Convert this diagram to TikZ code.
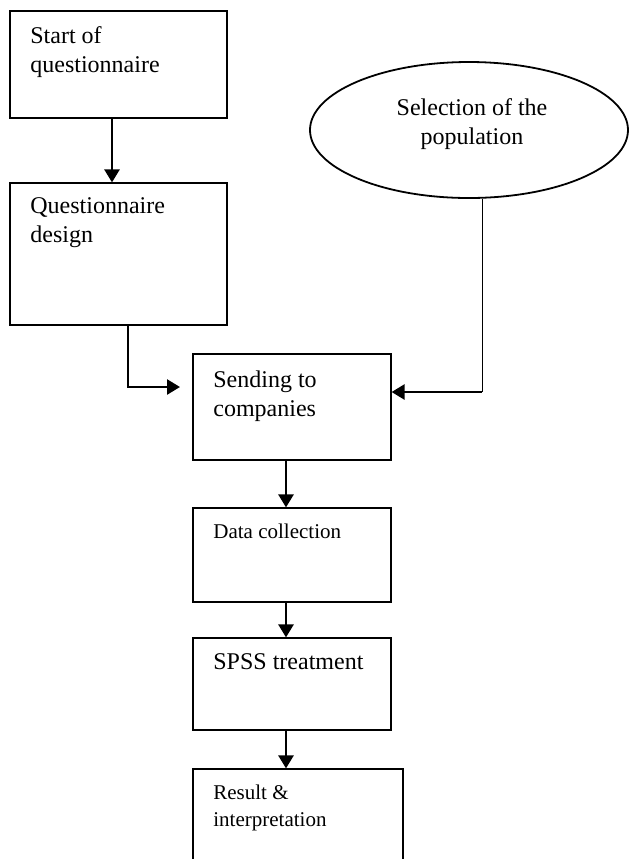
\documentclass[tikz,border=0pt]{standalone}
\usepackage{fontspec}
\setmainfont{Liberation Serif}
\usetikzlibrary{arrows.meta,fit,shapes.geometric}
\tikzset{
  boxnode/.style={draw, line width=0.6pt, inner sep=0pt, rectangle},
  popnode/.style={draw, line width=0.9pt, ellipse, inner sep=0pt},
  arr/.style={line width=1.3pt, -{Triangle[length=6.5pt,width=7.5pt]}},
  thinline/.style={line width=0.5pt},
  bigtext/.style={font=\fontsize{12}{14.5}\selectfont, inner sep=0pt, align=left, anchor=north west},
  smalltext/.style={font=\fontsize{10.5}{13.5}\selectfont, inner sep=0pt, align=left, anchor=north west},
}
\begin{document}
\begin{tikzpicture}[x=0.5pt,y=-0.5pt]
\clip (0,0) rectangle (630,859);
\fill[white] (0,0) rectangle (630,859);
% boxes
\node[boxnode, fit={(10,11) (227,118)}] (b1) {};
\node[boxnode, fit={(10,183) (227,325)}] (b2) {};
\node[boxnode, fit={(193,354) (391,460)}] (b3) {};
\node[boxnode, fit={(193,508) (391,602)}] (b4) {};
\node[boxnode, fit={(193,638) (391,730)}] (b5) {};
\node[boxnode, fit={(193,769) (403,885)}] (b6) {};
\node[popnode, minimum width=159pt, minimum height=68pt] (pop) at (469,130) {};
% texts
\node[bigtext] (t1) at (30,26.6) {Start of\\questionnaire};
\node[bigtext] (t2) at (30,197.6) {Questionnaire\\design};
\node[bigtext] (t3) at (213,370.6) {Sending to\\companies};
\node[smalltext] (t4) at (213,523.7) {Data collection};
\node[bigtext] (t5) at (213,652.8) {SPSS treatment};
\node[smalltext] (t6) at (213,784.7) {Result \&\\interpretation};
\node[font=\fontsize{12}{14.5}\selectfont, inner sep=0pt, align=center, anchor=north] (tp) at (472,98.6) {Selection of the\\population};
% helper coordinates
\coordinate (c12) at (112,0);
\coordinate (s2) at (76,325);
\coordinate (k2a) at (128,325);
\coordinate (k2b) at (128,387);
\coordinate (e2end) at (180,387);
\coordinate (ex) at (482,0);
\coordinate (ey) at (482,392);
\coordinate (cm) at (286,0);
% connectors
\draw[arr] (b1.south -| c12) -- (b2.north -| c12);
\draw[arr] (s2) -- (k2a) -- (k2b) -- (e2end);
\draw[thinline] (pop.south -| ex) -- (ey);
\draw[arr] (ey) -- (b3.east |- ey);
\draw[arr] (b3.south -| cm) -- (b4.north -| cm);
\draw[arr] (b4.south -| cm) -- (b5.north -| cm);
\draw[arr] (b5.south -| cm) -- (b6.north -| cm);
\end{tikzpicture}
\end{document}
